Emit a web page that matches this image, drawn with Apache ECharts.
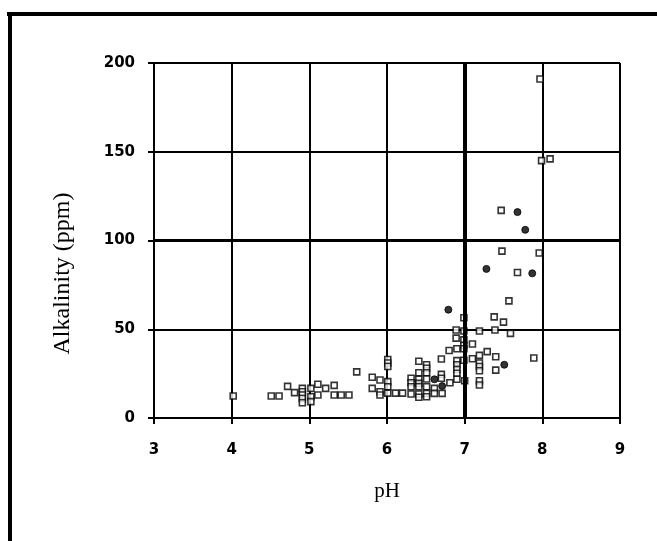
<!DOCTYPE html>
<html>
<head>
<meta charset="utf-8">
<script src="https://cdn.jsdelivr.net/npm/echarts@6/dist/echarts.min.js"></script>
<style>
  html, body { margin: 0; padding: 0; background: #fff; }
  #chart { width: 657px; height: 541px; }
</style>
</head>
<body>
<div id="chart"></div>
<script>
// open square markers: [pH, alkalinity]
const openPts = [
  [4.02, 12.4], [4.51, 12.4], [4.61, 12.4], [4.72, 17.8], [4.81, 14.3],
  [4.91, 16.7], [4.91, 14.8], [4.91, 13], [4.91, 11], [4.91, 8.6],
  [5.02, 16.7], [5.02, 12], [5.02, 9.2], [5.11, 19], [5.11, 13],
  [5.21, 16.7], [5.32, 18.4], [5.32, 13], [5.41, 13], [5.51, 13],
  [5.61, 26], [5.81, 23], [5.91, 21.4], [5.81, 16.7], [5.91, 14.8], [5.91, 13],
  [6.01, 33], [6.01, 31], [6.01, 29], [6.01, 20.5], [6.01, 17.6], [6.01, 14],
  [6.11, 14], [6.20, 14],
  [6.31, 22.4], [6.31, 19.9], [6.31, 17.6], [6.31, 13.5],
  [6.41, 32], [6.41, 25.5], [6.41, 21.8], [6.41, 19.5], [6.41, 17.6], [6.41, 13.5], [6.41, 11.7],
  [6.51, 30], [6.51, 28], [6.51, 25.5], [6.51, 22], [6.51, 17.6], [6.51, 13.9], [6.51, 12],
  [6.61, 16.7], [6.61, 13.9],
  [6.70, 33.2], [6.70, 24.6], [6.70, 22.4], [6.71, 13.9],
  [6.80, 38], [6.81, 19.9],
  [6.89, 49.6], [6.89, 45], [6.90, 39], [6.90, 32.3], [6.90, 30], [6.90, 27.4], [6.90, 25.2], [6.90, 21.8],
  [6.99, 56.5], [6.99, 49], [6.99, 44], [6.99, 41], [6.99, 39], [6.99, 32.5], [7.00, 21],
  [7.10, 41.7], [7.10, 33.4],
  [7.19, 49], [7.19, 35.3], [7.19, 31], [7.19, 29], [7.19, 26.6], [7.19, 21], [7.19, 18.6],
  [7.29, 37.4], [7.38, 57], [7.39, 49.6], [7.40, 34.5], [7.40, 27],
  [7.50, 54], [7.57, 66], [7.59, 47.7], [7.89, 33.8],
  [7.47, 117], [7.48, 94], [7.68, 82], [7.96, 93],
  [7.97, 191], [7.99, 145], [8.10, 146]
];

// filled markers
const filledPts = [
  [6.61, 21.8], [6.71, 18], [6.79, 61], [7.28, 84],
  [7.51, 30], [7.68, 116], [7.78, 106], [7.87, 81.5]
];

const phTicks = [3, 4, 5, 6, 7, 8, 9];
const alkTicks = [0, 50, 100, 150, 200];

const chart = echarts.init(document.getElementById('chart'));

const tickFont = {
  color: '#000',
  fontFamily: 'DejaVu Sans',
  fontWeight: 'bold',
  fontSize: 15
};

chart.setOption({
  animation: false,
  backgroundColor: '#fff',
  grid: { left: 154, right: 37, top: 63, bottom: 123 },
  graphic: [
    // frame of the scanned page
    { type: 'rect', shape: { x: 7, y: 12, width: 650, height: 4 }, style: { fill: '#000' } },
    { type: 'rect', shape: { x: 8, y: 15, width: 4, height: 526 }, style: { fill: '#000' } }
  ],
  xAxis: {
    type: 'value',
    min: phTicks[0],
    max: phTicks[phTicks.length - 1],
    interval: 1,
    name: 'pH',
    nameLocation: 'middle',
    nameGap: 63,
    nameTextStyle: { color: '#000', fontFamily: 'Liberation Serif', fontSize: 21 },
    axisLine: { lineStyle: { color: '#000', width: 2 } },
    axisTick: { show: true, length: 6, lineStyle: { color: '#000', width: 2 } },
    axisLabel: { ...tickFont, margin: 25 },
    splitLine: { show: true, lineStyle: { color: '#000', width: 2 } }
  },
  yAxis: {
    type: 'value',
    min: alkTicks[0],
    max: alkTicks[alkTicks.length - 1],
    interval: 50,
    name: 'Alkalinity (ppm)',
    nameLocation: 'middle',
    nameGap: 79,
    nameTextStyle: { color: '#000', fontFamily: 'Liberation Serif', fontSize: 24, padding: [0, 0, 0, -66] },
    axisLine: { show: true, lineStyle: { color: '#000', width: 2 } },
    axisTick: { show: true, length: 6, lineStyle: { color: '#000', width: 2 } },
    axisLabel: { ...tickFont, margin: 19 },
    splitLine: { show: true, lineStyle: { color: '#000', width: 2 } }
  },
  series: [
    {
      type: 'scatter',
      data: openPts,
      symbol: 'rect',
      symbolSize: 6,
      itemStyle: { color: '#fff', borderColor: '#000', borderWidth: 1.6 },
      markLine: {
        silent: true,
        symbol: 'none',
        label: { show: false },
        lineStyle: { color: '#000', type: 'solid', width: 4 },
        data: [
          { xAxis: 7 },
          { yAxis: 100, lineStyle: { width: 3 } }
        ]
      },
      z: 3
    },
    {
      type: 'scatter',
      data: filledPts,
      symbol: 'circle',
      symbolSize: 7,
      itemStyle: { color: '#000', borderColor: '#000', borderWidth: 1 },
      z: 3
    }
  ]
});
</script>
</body>
</html>
